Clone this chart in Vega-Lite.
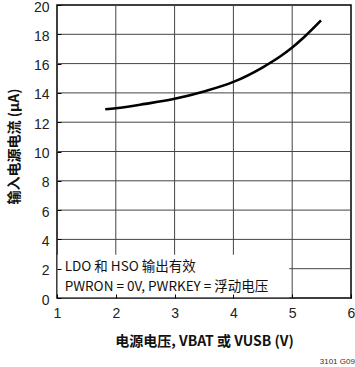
{
  "$schema": "https://vega.github.io/schema/vega-lite/v6.json",
  "width": 294,
  "height": 293,
  "autosize": {"type": "none"},
  "padding": {"left": 57, "top": 5, "right": 4, "bottom": 69},
  "background": "white",
  "config": {
    "view": {"stroke": "black", "strokeWidth": 1.5},
    "font": "Liberation Sans"
  },
  "title": {
    "text": "3101 G09",
    "orient": "bottom",
    "anchor": "end",
    "fontSize": 8,
    "fontWeight": "normal",
    "color": "#333333",
    "offset": 10
  },
  "datasets": {
    "curve": [
      {"v": 1.82, "i": 12.88},
      {"v": 2.0, "i": 12.95},
      {"v": 2.5, "i": 13.25},
      {"v": 3.0, "i": 13.6},
      {"v": 3.5, "i": 14.1},
      {"v": 4.0, "i": 14.75},
      {"v": 4.5, "i": 15.75},
      {"v": 4.8, "i": 16.5},
      {"v": 5.0, "i": 17.1},
      {"v": 5.2, "i": 17.8},
      {"v": 5.49, "i": 18.95}
    ],
    "vgrid": [{"gx": 2}, {"gx": 3}, {"gx": 4}, {"gx": 5}],
    "hgrid": [{"gy": 2}, {"gy": 4}, {"gy": 6}, {"gy": 8}, {"gy": 10}, {"gy": 12}, {"gy": 14}, {"gy": 16}, {"gy": 18}],
    "box": [{"x1": 1.01, "x2": 4.95, "y1": 0.05, "y2": 2.95}],
    "notes": [
      {"tx": 1.13, "ty": 2.12, "label": "LDO 和 HSO 输出有效"},
      {"tx": 1.13, "ty": 0.77, "label": "PWRON = 0V, PWRKEY = 浮动电压"}
    ]
  },
  "layer": [
    {
      "data": {"name": "vgrid"},
      "mark": {"type": "rule", "color": "#444444", "strokeWidth": 1},
      "encoding": {
        "x": {"field": "gx", "type": "quantitative", "scale": {"domain": [1, 6], "nice": false}}
      }
    },
    {
      "data": {"name": "hgrid"},
      "mark": {"type": "rule", "color": "#444444", "strokeWidth": 1},
      "encoding": {
        "y": {"field": "gy", "type": "quantitative", "scale": {"domain": [0, 20], "nice": false}}
      }
    },
    {
      "data": {"name": "box"},
      "mark": {"type": "rect", "color": "white"},
      "encoding": {
        "x": {"field": "x1", "type": "quantitative"},
        "x2": {"field": "x2"},
        "y": {"field": "y1", "type": "quantitative"},
        "y2": {"field": "y2"}
      }
    },
    {
      "data": {"name": "curve"},
      "mark": {"type": "line", "color": "black", "strokeWidth": 2.6, "interpolate": "monotone"},
      "encoding": {
        "x": {
          "field": "v",
          "type": "quantitative",
          "scale": {"domain": [1, 6], "nice": false},
          "axis": {
            "tickCount": 6,
            "format": "d",
            "grid": false,
            "ticks": true,
            "tickSize": -4,
            "tickColor": "black",
            "tickWidth": 1,
            "domain": false,
            "zindex": 1,
            "labelFont": "Liberation Sans",
            "labelFontSize": 14,
            "labelColor": "#222222",
            "labelPadding": 12,
            "labelFlush": false,
            "labelOverlap": false,
            "title": "电源电压, VBAT 或 VUSB (V)",
            "titleFont": "Noto Sans CJK SC",
            "titleFontSize": 14,
            "titleFontWeight": "bold",
            "titleColor": "#111111",
            "titlePadding": 14
          }
        },
        "y": {
          "field": "i",
          "type": "quantitative",
          "scale": {"domain": [0, 20], "nice": false},
          "axis": {
            "tickCount": 11,
            "format": "d",
            "grid": false,
            "ticks": true,
            "tickSize": -4,
            "tickColor": "black",
            "tickWidth": 1,
            "domain": false,
            "zindex": 1,
            "labelFont": "Liberation Sans",
            "labelFontSize": 14,
            "labelColor": "#222222",
            "labelPadding": 12,
            "labelOffset": 2,
            "labelFlush": false,
            "labelOverlap": false,
            "title": "输入电源电流 (µA)",
            "titleFont": "Noto Sans CJK SC",
            "titleFontSize": 14,
            "titleFontWeight": "bold",
            "titleColor": "#111111",
            "titlePadding": 12,
            "titleY": 141
          }
        }
      }
    },
    {
      "data": {"name": "notes"},
      "mark": {"type": "text", "align": "left", "baseline": "middle", "font": "Noto Sans CJK SC", "fontSize": 13.5, "color": "#111111"},
      "encoding": {
        "x": {"field": "tx", "type": "quantitative"},
        "y": {"field": "ty", "type": "quantitative"},
        "text": {"field": "label"}
      }
    }
  ]
}
